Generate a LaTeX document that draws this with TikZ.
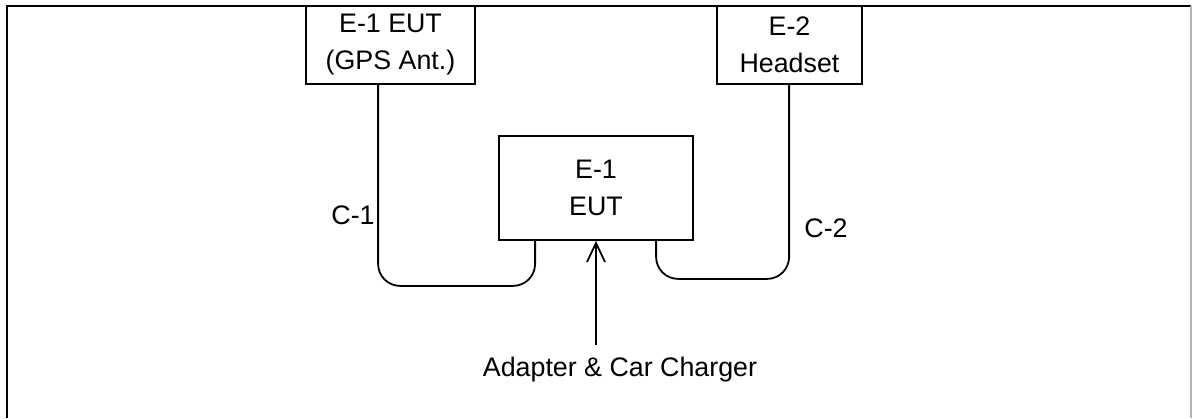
\documentclass[tikz,border=0pt]{standalone}
\usepackage{fontspec}
\setmainfont{Liberation Sans}
\usetikzlibrary{arrows.meta}
\begin{document}
\begin{tikzpicture}[x=1pt,y=-1pt,
  lbl/.style={font=\fontsize{26.8}{37}\selectfont, inner sep=0pt},
  unitbox/.style={draw, line width=1.8pt, align=center, inner sep=0pt, font=\fontsize{26.8}{37}\selectfont},
  wire/.style={line width=1.8pt, rounded corners=22pt},
  frameline/.style={line width=2.4pt}]
\useasboundingbox (0,0) rectangle (1192,418);
% frame
\draw[frameline] (7,418) -- (7,6) -- (1191,6);
\draw[line width=1.2pt, gray!60] (1191,6) -- (1191,418);
% boxes
\node[unitbox, minimum width=169pt, minimum height=78pt] (A) at (390.5,45) {E-1 EUT\\(GPS Ant.)};
\node[unitbox, minimum width=145pt, minimum height=78pt] (B) at (789.5,45) {E-2\\Headset};
\node[unitbox, minimum width=194pt, minimum height=104pt] (C) at (596,188) {E-1\\EUT};
% cables
\draw[wire] ([xshift=73pt]A.south west) |- ([xshift=37pt,yshift=-45pt]C.south west) -- ([xshift=37pt]C.south west);
\draw[wire] ([xshift=158pt]C.south west) -- ([xshift=158pt,yshift=-38pt]C.south west) -| ([xshift=73pt]B.south west);
% labels
\node[lbl] (c1) at (353,215) {C-1};
\node[lbl] (c2) at (826,228) {C-2};
% charger
\node[lbl] (chg) at (620,370) {Adapter \& Car Charger};
\coordinate (tail) at ([yshift=-104pt]C.south);
\draw[line width=1.8pt, -{Straight Barb[length=19pt,width=18pt,line width=1.8pt]}] (tail) -- (C.south);
\end{tikzpicture}
\end{document}
